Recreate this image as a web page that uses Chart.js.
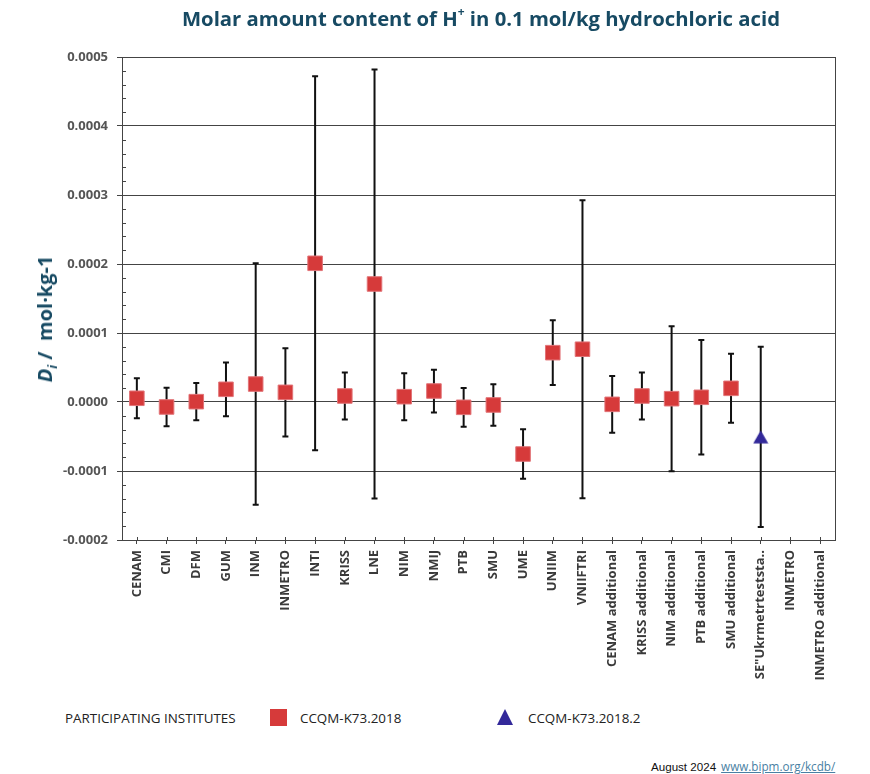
<!DOCTYPE html>
<html>
<head>
<meta charset="utf-8">
<script src="https://cdn.jsdelivr.net/npm/chart.js@4/dist/chart.umd.min.js"></script>
<style>
  html, body { margin: 0; padding: 0; background: #fff; }
  #wrap { position: relative; width: 870px; height: 774px; overflow: hidden; font-family: "Open Sans", sans-serif; }
  #c { position: absolute; left: 0; top: 0; }
  #title { position: absolute; left: -4px; width: 970px; top: 4px; text-align: center; font-size: 20.3px; font-weight: 700; color: #174a63; white-space: nowrap; }
  #title sup { font-size: 12px; position: relative; top: -2px; }
  #ytitle { position: absolute; left: 46px; top: 319px; transform: translate(-50%, -50%) rotate(-90deg); font-size: 20px; font-weight: 700; color: #174a63; white-space: nowrap; }
  #ytitle sub { font-size: 13px; }
  .leg { position: absolute; font-size: 13.4px; color: #222; white-space: nowrap; }
  #foot { position: absolute; left: 651px; top: 758px; font-family: "Liberation Sans Narrow", "Liberation Sans", sans-serif; font-size: 11.6px; color: #111; white-space: nowrap; }
  #foot a { color: #4a7fa3; text-decoration: underline; margin-left: 5px; font-family: "Open Sans", sans-serif; font-size: 11.7px; }
</style>
</head>
<body>
<div id="wrap">
  <canvas id="c" width="870" height="700"></canvas>
  <div id="title">Molar amount content of H<sup>+</sup> in 0.1 mol/kg hydrochloric acid</div>
  <div id="ytitle"><i>D<sub>i</sub></i> /&nbsp; mol·kg-1</div>
  <div class="leg" style="left:65px; top:709px;">PARTICIPATING INSTITUTES</div>
  <div style="position:absolute; left:270px; top:709px; width:17px; height:17px; background:#d63a3a;"></div>
  <div class="leg" style="left:300px; top:709px;">CCQM-K73.2018</div>
  <svg style="position:absolute; left:496px; top:708px;" width="18" height="18"><polygon points="9,1 17,17 1,17" fill="#33299a"/></svg>
  <div class="leg" style="left:528px; top:709px;">CCQM-K73.2018.2</div>
  <div id="foot">August 2024<a>www.bipm.org/kcdb/</a></div>
</div>
<script>
const categories = ['CENAM','CMI','DFM','GUM','INM','INMETRO','INTI','KRISS','LNE','NIM','NMIJ','PTB','SMU','UME','UNIIM','VNIIFTRI','CENAM additional','KRISS additional','NIM additional','PTB additional','SMU additional','SE"Ukrmetrteststa..','INMETRO','INMETRO additional'];

const k73Values = [0.0000054, -0.0000072, 0.0000005, 0.0000184, 0.000026, 0.000014, 0.000201, 0.0000087, 0.000171, 0.0000077, 0.0000159, -0.0000077, -0.0000043, -0.0000754, 0.0000715, 0.0000765, -0.0000034, 0.0000087, 0.0000048, 0.0000068, 0.0000198, null, null, null];
const k73Unc = [0.000029, 0.000028, 0.000027, 0.000039, 0.000175, 0.000064, 0.000271, 0.000034, 0.000311, 0.000034, 0.000031, 0.000028, 0.00003, 0.000036, 0.000047, 0.000216, 0.000041, 0.000034, 0.000105, 0.000083, 0.00005, null, null, null];

const k732Values = [null, null, null, null, null, null, null, null, null, null, null, null, null, null, null, null, null, null, null, null, null, -0.0000505, null, null];
const k732Unc = [null, null, null, null, null, null, null, null, null, null, null, null, null, null, null, null, null, null, null, null, null, 0.0001305, null, null];

const yTicks = [-0.0002, -0.0001, 0, 0.0001, 0.0002, 0.0003, 0.0004, 0.0005];

const uncByDataset = [k73Unc, k732Unc];

// triangle marker centred in its box
const tri = document.createElement('canvas');
tri.width = 16; tri.height = 14;
(function () {
  const t = tri.getContext('2d');
  t.fillStyle = '#33299a';
  t.beginPath(); t.moveTo(8, 0.5); t.lineTo(15.5, 13.5); t.lineTo(0.5, 13.5); t.closePath(); t.fill();
})();

const errorBars = {
  id: 'errorBars',
  beforeDatasetsDraw(chart) {
    const ctx = chart.ctx, x = chart.scales.x, y = chart.scales.y;
    ctx.save();
    ctx.strokeStyle = '#111';
    ctx.lineWidth = 2;
    chart.data.datasets.forEach((ds, di) => {
      ds.data.forEach((v, i) => {
        const u = uncByDataset[di][i];
        if (v == null || u == null) return;
        const px = x.getPixelForValue(i);
        const top = y.getPixelForValue(v + u), bot = y.getPixelForValue(v - u);
        ctx.beginPath();
        ctx.moveTo(px, top); ctx.lineTo(px, bot);
        ctx.moveTo(px - 3, top); ctx.lineTo(px + 3, top);
        ctx.moveTo(px - 3, bot); ctx.lineTo(px + 3, bot);
        ctx.stroke();
      });
    });
    ctx.restore();
  },
  afterDraw(chart) {
    const ctx = chart.ctx, a = chart.chartArea, x = chart.scales.x, y = chart.scales.y;
    ctx.save();
    ctx.strokeStyle = '#444';
    ctx.lineWidth = 1;
    ctx.strokeRect(Math.round(a.left) + 0.5, Math.round(a.top) + 0.5, Math.round(a.right - a.left), Math.round(a.bottom - a.top));
    ctx.beginPath();
    for (let k = 0; k < yTicks.length - 1; k++) {
      const step = (yTicks[k + 1] - yTicks[k]) / 5;
      for (let m = 1; m < 5; m++) {
        const py = Math.round(y.getPixelForValue(yTicks[k] + m * step)) + 0.5;
        ctx.moveTo(a.left, py); ctx.lineTo(a.left + 4, py);
      }
    }
    categories.forEach((c, i) => {
      const px = Math.round(x.getPixelForValue(i)) + 0.5;
      ctx.moveTo(px, a.bottom - 3); ctx.lineTo(px, a.bottom);
    });
    ctx.stroke();
    ctx.restore();
  }
};

new Chart(document.getElementById('c'), {
  type: 'line',
  data: {
    labels: categories,
    datasets: [
      { label: 'CCQM-K73.2018', data: k73Values, showLine: false, pointStyle: 'rect', pointRadius: 10.3, pointHoverRadius: 10.3,
        backgroundColor: '#d63a3a', borderColor: '#e27478', borderWidth: 1 },
      { label: 'CCQM-K73.2018.2', data: k732Values, showLine: false, pointStyle: tri, pointRadius: 8, pointHoverRadius: 8,
        backgroundColor: '#33299a', borderColor: '#33299a', borderWidth: 0 }
    ]
  },
  options: {
    responsive: false,
    animation: false,
    events: [],
    layout: { padding: { left: 0, right: 35, top: 57, bottom: 0 } },
    plugins: { legend: { display: false }, tooltip: { enabled: false }, title: { display: false } },
    scales: {
      x: {
        offset: true,
        grid: { drawOnChartArea: false, drawTicks: true, tickLength: 4, color: '#444' },
        border: { display: true, color: '#444' },
        ticks: { minRotation: 90, maxRotation: 90, autoSkip: false, padding: 6, color: '#3a3a3a',
          font: { family: 'Open Sans', size: 13, weight: 'bold' } },
        afterFit(s) { s.height = 160; }
      },
      y: {
        min: -0.0002, max: 0.0005,
        afterBuildTicks(s) { s.ticks = yTicks.map(v => ({ value: v })); },
        grid: { color: '#444', lineWidth: 1, tickLength: 5 },
        border: { display: true, color: '#444' },
        ticks: { padding: 9, color: '#555', font: { family: 'Open Sans', size: 13, weight: 'bold' },
          callback: v => Math.abs(v) < 1e-12 ? '0.0000' : Number(v).toFixed(4) },
        afterFit(s) { s.width = 122; }
      }
    }
  },
  plugins: [errorBars]
});
</script>
</body>
</html>
